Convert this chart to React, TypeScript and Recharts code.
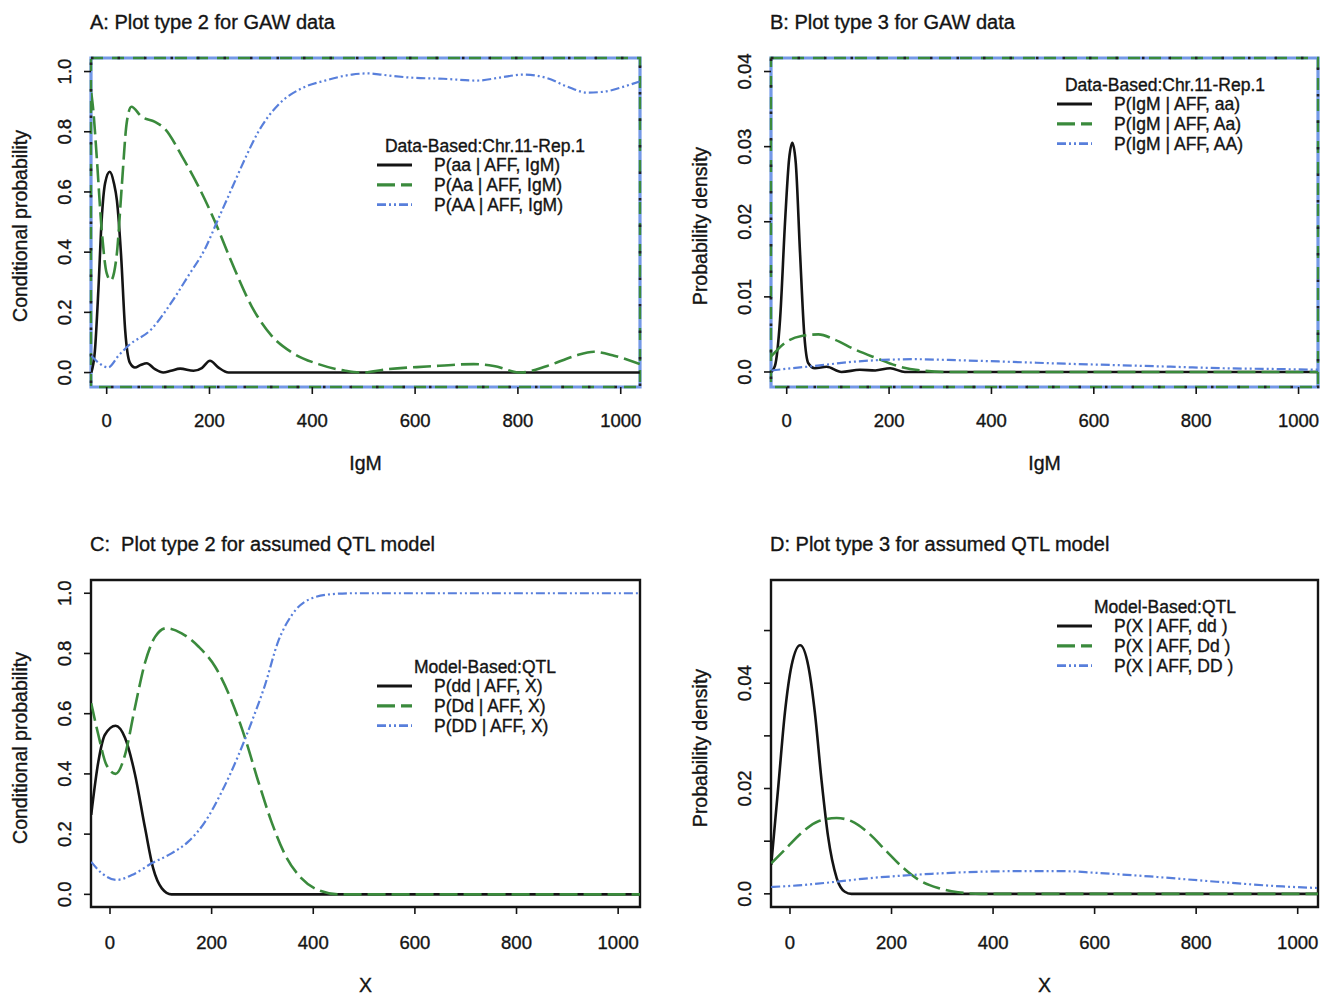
import React from 'react'
import { LineChart, Line, XAxis, YAxis, ReferenceArea, Legend } from 'recharts'

const FONT = '"Liberation Sans", Arial, Helvetica, sans-serif'
const INK = '#141414'
const BLACK = '#141414'
const GREEN = '#3a8a3c'
const BLUE = '#587fdb'

type Pt = [number, number]

// ---- panel A: conditional probability of genotype given IgM (GAW data)
const gawCond_aa: Pt[] = [
    [-30, 0], [-23, 0.07], [-16, 0.28], [-10, 0.5], [-3, 0.63], [6, 0.667], [14, 0.63], [20, 0.57],
    [28, 0.39], [36, 0.14], [45, 0.033], [55, 0.017], [66, 0.025], [78, 0.031], [94, 0.011], [110, 0],
    [125, 0.006], [143, 0.013], [169, 0.006], [185, 0.015], [201, 0.039], [217, 0.017], [237, 0],
    [400, 0], [700, 0], [1037, 0],
]
const gawCond_Aa: Pt[] = [
    [-30, 0.93], [-26, 0.87], [-19.5, 0.72], [-10, 0.48], [0, 0.33], [8, 0.306], [19.5, 0.39], [29, 0.61],
    [39, 0.83], [48, 0.883], [68, 0.85], [94, 0.833], [113, 0.81], [146, 0.72], [178, 0.62], [211, 0.5],
    [243, 0.367], [282, 0.22], [321, 0.122], [360, 0.067], [412, 0.028], [464, 0.006], [496, 0],
    [545, 0.011], [623, 0.02], [714, 0.028], [753, 0.022], [805, 0], [857, 0.022], [910, 0.055],
    [948, 0.069], [987, 0.056], [1037, 0.028],
]
const gawCond_AA: Pt[] = [
    [-30, 0.056], [-16, 0.033], [3, 0.017], [23, 0.056], [42, 0.089], [87, 0.144], [126, 0.233],
    [159, 0.322], [191, 0.41], [217, 0.51], [243, 0.61], [269, 0.71], [295, 0.8], [334, 0.89],
    [379, 0.944], [425, 0.97], [477, 0.99], [510, 0.994], [532, 0.99], [590, 0.98], [655, 0.976],
    [720, 0.97], [765, 0.98], [810, 0.99], [857, 0.978], [896, 0.95], [935, 0.93], [967, 0.933],
    [1006, 0.95], [1037, 0.967],
]

// ---- panel B: density of IgM given genotype (GAW data)
const gawDens_aa: Pt[] = [
    [-30, 0], [-23, 0.0008], [-13, 0.007], [-3, 0.0203], [4.6, 0.0283], [11, 0.0305], [17.6, 0.0279],
    [26, 0.0159], [34.5, 0.0048], [42, 0.0012], [55, 0.0005], [78, 0.0007], [107, 0], [143, 0.0003],
    [173, 0.0002], [202, 0.0005], [231, 0], [1038, 0],
]
const gawDens_Aa: Pt[] = [
    [-30, 0.0021], [-3, 0.0039], [29, 0.0048], [62, 0.005], [94, 0.0043], [133, 0.003], [173, 0.0019],
    [218, 0.00076], [264, 0.0002], [316, 0], [1038, 0],
]
const gawDens_AA: Pt[] = [
    [-30, 0.0002], [10, 0.0005], [55, 0.0008], [120, 0.0013], [186, 0.0016], [251, 0.0017], [316, 0.0016],
    [414, 0.0014], [544, 0.0011], [650, 0.0009], [750, 0.0007], [850, 0.0005], [950, 0.0004], [1038, 0.0003],
]

// ---- panel C: conditional probability under the assumed QTL model
const qtlCond_dd: Pt[] = [
    [-37, 0.264], [-23, 0.44], [-10, 0.53], [11, 0.56], [29.5, 0.52], [49, 0.4], [69, 0.22], [85, 0.086],
    [102, 0.02], [121, 0], [1043, 0],
]
const qtlCond_Dd: Pt[] = [
    [-37, 0.635], [-23, 0.53], [-7, 0.43], [11, 0.4], [29.5, 0.463], [49, 0.62], [69, 0.77], [89, 0.856],
    [111, 0.884], [141, 0.867], [174, 0.823], [207, 0.756], [240, 0.64], [266, 0.518], [292, 0.374],
    [318, 0.24], [345, 0.13], [377, 0.053], [410, 0.014], [450, 0], [1043, 0],
]
const qtlCond_DD: Pt[] = [
    [-37, 0.108], [-16, 0.07], [13, 0.048], [43, 0.064], [82, 0.103], [121, 0.136], [154, 0.175],
    [187, 0.241], [220, 0.341], [253, 0.463], [279, 0.574], [305, 0.695], [331, 0.84], [358, 0.928],
    [390, 0.978], [436, 0.997], [476, 1], [1043, 1],
]

// ---- panel D: density of X under the assumed QTL model
const qtlDens_dd: Pt[] = [
    [-37, 0.0055], [-23, 0.0204], [-10, 0.0344], [3, 0.0433], [20, 0.0472], [36, 0.0433], [49, 0.0344],
    [62, 0.0217], [75, 0.0109], [92, 0.003], [108, 0.0004], [121, 0], [1040, 0],
]
const qtlDens_Dd: Pt[] = [
    [-37, 0.0058], [-10, 0.0084], [23, 0.0116], [56, 0.0138], [92, 0.0144], [121, 0.0138], [154, 0.0116],
    [187, 0.0084], [220, 0.0052], [253, 0.0027], [292, 0.0011], [331, 0.0003], [377, 0], [1040, 0],
]
const qtlDens_DD: Pt[] = [
    [-37, 0.0013], [16, 0.0016], [82, 0.0022], [148, 0.0029], [213, 0.0034], [279, 0.0038], [344, 0.0041],
    [443, 0.0043], [541, 0.0043], [600, 0.004], [709, 0.0033], [840, 0.0023], [971, 0.0014], [1040, 0.0011],
]

const xTicks = [0, 200, 400, 600, 800, 1000]
const condTicks = [0, 0.2, 0.4, 0.6, 0.8, 1.0]
const condTickLabels = ['0.0', '0.2', '0.4', '0.6', '0.8', '1.0']
const gawDensTicks = [0, 0.01, 0.02, 0.03, 0.04]
const gawDensTickLabels = ['0.0', '0.01', '0.02', '0.03', '0.04']
const qtlDensTicks = [0, 0.01, 0.02, 0.03, 0.04, 0.05]
const qtlDensTickLabels = ['0.0', '', '0.02', '', '0.04', '']

const gawCondNames = ['P(aa | AFF, IgM)', 'P(Aa | AFF, IgM)', 'P(AA | AFF, IgM)']
const gawDensNames = ['P(IgM | AFF, aa)', 'P(IgM | AFF, Aa)', 'P(IgM | AFF, AA)']
const qtlCondNames = ['P(dd | AFF, X)', 'P(Dd | AFF, X)', 'P(DD | AFF, X)']
const qtlDensNames = ['P(X | AFF, dd )', 'P(X | AFF, Dd )', 'P(X | AFF, DD )']

// R-ish line types: solid, longdash, twodash-ish
const LINE_STYLES = [
    { color: BLACK, dash: undefined as string | undefined, width: 2.6 },
    { color: GREEN, dash: '18 6', width: 2.6 },
    { color: BLUE, dash: '9 3 2 3 2 3', width: 2.2 },
]

const toRows = (pts: Pt[]) => pts.map(([x, y]) => ({ x, y }))

const Y_AXIS_W = 40
const X_AXIS_H = 40

interface PanelProps {
    left: number
    top: number
    width: number
    height: number
    plot: { left: number; right: number; top: number; bottom: number }
    title: string
    xTitle: string
    yTitle: string
    xDomain: [number, number]
    yDomain: [number, number]
    yTicks: number[]
    yTickLabels: string[]
    series: Pt[][]
    names: string[]
    legendTitle: string
    legendTop: number
    dataBorder?: boolean
}

function Panel(p: PanelProps) {
    const margin = {
        top: p.plot.top,
        left: p.plot.left - Y_AXIS_W,
        right: p.width - p.plot.right,
        bottom: p.height - p.plot.bottom - X_AXIS_H,
    }
    const plotMid = (p.plot.left + p.plot.right) / 2
    const txt = { fontFamily: FONT, fill: INK, stroke: INK, strokeWidth: 0.35 } as const
    const htmlTxt = {
        fontFamily: FONT, color: INK, whiteSpace: 'pre', zIndex: 2, WebkitTextStroke: '0.35px #141414',
    } as const

    const legendContent = () => (
        <svg width={250} height={82} style={{ display: 'block' }}>
            <text x={113} y={12} textAnchor="middle" dominantBaseline="central" fontSize={17.5} {...txt}>
                {p.legendTitle}
            </text>
            {p.names.map((n, i) => (
                <g key={n}>
                    <line
                        x1={5} x2={40} y1={31 + i * 19.8} y2={31 + i * 19.8}
                        stroke={LINE_STYLES[i].color}
                        strokeWidth={LINE_STYLES[i].width + 0.6}
                        strokeDasharray={LINE_STYLES[i].dash}
                    />
                    <text x={62} y={31 + i * 19.8} dominantBaseline="central" fontSize={17.5} {...txt}>
                        {n}
                    </text>
                </g>
            ))}
        </svg>
    )

    return (
        <div style={{ position: 'absolute', left: p.left, top: p.top, width: p.width, height: p.height }}>
            <div style={{ ...htmlTxt, position: 'absolute', left: p.plot.left - 1, top: 10, fontSize: 20, lineHeight: '24px' }}>
                {p.title}
            </div>
            <div
                style={{
                    ...htmlTxt, position: 'absolute', left: 20, top: 226,
                    transform: 'translate(-50%, -50%) rotate(-90deg)', fontSize: 19.5,
                }}
            >
                {p.yTitle}
            </div>
            <div
                style={{
                    ...htmlTxt, position: 'absolute', left: plotMid, top: 463,
                    transform: 'translate(-50%, -50%)', fontSize: 19.5,
                }}
            >
                {p.xTitle}
            </div>
            <LineChart width={p.width} height={p.height} margin={margin}>
                <XAxis
                    type="number"
                    dataKey="x"
                    domain={p.xDomain}
                    ticks={xTicks}
                    allowDataOverflow
                    height={X_AXIS_H}
                    axisLine={false}
                    tickSize={7}
                    tickLine={{ stroke: INK, strokeWidth: 1.6 }}
                    tick={(t: any) => (
                        <text x={t.x} y={420} textAnchor="middle" dominantBaseline="central" fontSize={18.5} {...txt}>
                            {t.payload.value}
                        </text>
                    )}
                />
                <YAxis
                    type="number"
                    dataKey="y"
                    domain={p.yDomain}
                    ticks={p.yTicks}
                    allowDataOverflow
                    width={Y_AXIS_W}
                    axisLine={false}
                    tickSize={7}
                    tickLine={{ stroke: INK, strokeWidth: 1.6 }}
                    tick={(t: any) => {
                        const idx = p.yTicks.indexOf(t.payload.value)
                        return (
                            <text
                                x={65} y={t.y}
                                transform={`rotate(-90, 65, ${t.y})`}
                                textAnchor="middle" dominantBaseline="central" fontSize={18.5} {...txt}
                            >
                                {idx >= 0 ? p.yTickLabels[idx] : ''}
                            </text>
                        )
                    }}
                />
                {p.series.map((s, i) => (
                    <Line
                        key={p.names[i]}
                        name={p.names[i]}
                        data={toRows(s)}
                        dataKey="y"
                        type="monotone"
                        stroke={LINE_STYLES[i].color}
                        strokeWidth={LINE_STYLES[i].width}
                        strokeDasharray={LINE_STYLES[i].dash}
                        dot={false}
                        activeDot={false}
                        isAnimationActive={false}
                    />
                ))}
                {p.dataBorder ? (
                    <>
                        <ReferenceArea
                            x1={p.xDomain[0]} x2={p.xDomain[1]} y1={p.yDomain[0]} y2={p.yDomain[1]}
                            fill="none" fillOpacity={0} stroke="#7398e6" strokeWidth={3.2}
                        />
                        <ReferenceArea
                            x1={p.xDomain[0]} x2={p.xDomain[1]} y1={p.yDomain[0]} y2={p.yDomain[1]}
                            fill="none" fillOpacity={0} stroke={GREEN} strokeWidth={2.4} strokeDasharray="12 9"
                        />
                        <ReferenceArea
                            x1={p.xDomain[0]} x2={p.xDomain[1]} y1={p.yDomain[0]} y2={p.yDomain[1]}
                            fill="none" fillOpacity={0} stroke="#222" strokeWidth={2.6} strokeDasharray="2.5 24"
                        />
                    </>
                ) : (
                    <ReferenceArea
                        x1={p.xDomain[0]} x2={p.xDomain[1]} y1={p.yDomain[0]} y2={p.yDomain[1]}
                        fill="none" fillOpacity={0} stroke={BLACK} strokeWidth={2.4}
                    />
                )}
                <Legend
                    layout="vertical"
                    verticalAlign="middle"
                    align="center"
                    content={legendContent}
                    wrapperStyle={{ left: 372, top: p.legendTop, width: 250, height: 82 }}
                />
            </LineChart>
        </div>
    )
}

export default function App() {
    return (
        <div style={{ position: 'absolute', left: 0, top: 0, width: 1320, height: 994, overflow: 'hidden', background: '#fff' }}>
            <Panel
                left={0} top={0} width={660} height={500}
                plot={{ left: 91, right: 640, top: 58, bottom: 387 }}
                title="A: Plot type 2 for GAW data"
                xTitle="IgM" yTitle="Conditional probability"
                xDomain={[-30.5, 1037.5]} yDomain={[-0.048, 1.045]}
                yTicks={condTicks} yTickLabels={condTickLabels}
                series={[gawCond_aa, gawCond_Aa, gawCond_AA]} names={gawCondNames}
                legendTitle="Data-Based:Chr.11-Rep.1" legendTop={134}
                dataBorder
            />
            <Panel
                left={680} top={0} width={640} height={500}
                plot={{ left: 91, right: 638, top: 58, bottom: 387 }}
                title="B: Plot type 3 for GAW data"
                xTitle="IgM" yTitle="Probability density"
                xDomain={[-30.7, 1038]} yDomain={[-0.002, 0.0418]}
                yTicks={gawDensTicks} yTickLabels={gawDensTickLabels}
                series={[gawDens_aa, gawDens_Aa, gawDens_AA]} names={gawDensNames}
                legendTitle="Data-Based:Chr.11-Rep.1" legendTop={73}
                dataBorder
            />
            <Panel
                left={0} top={522} width={660} height={472}
                plot={{ left: 91, right: 640, top: 58, bottom: 385 }}
                title="C:  Plot type 2 for assumed QTL model"
                xTitle="X" yTitle="Conditional probability"
                xDomain={[-37.4, 1043]} yDomain={[-0.042, 1.044]}
                yTicks={condTicks} yTickLabels={condTickLabels}
                series={[qtlCond_dd, qtlCond_Dd, qtlCond_DD]} names={qtlCondNames}
                legendTitle="Model-Based:QTL" legendTop={133}
            />
            <Panel
                left={680} top={522} width={640} height={472}
                plot={{ left: 91, right: 638, top: 58, bottom: 385 }}
                title="D: Plot type 3 for assumed QTL model"
                xTitle="X" yTitle="Probability density"
                xDomain={[-37.4, 1040]} yDomain={[-0.0025, 0.0596]}
                yTicks={qtlDensTicks} yTickLabels={qtlDensTickLabels}
                series={[qtlDens_dd, qtlDens_Dd, qtlDens_DD]} names={qtlDensNames}
                legendTitle="Model-Based:QTL" legendTop={73}
            />
        </div>
    )
}
